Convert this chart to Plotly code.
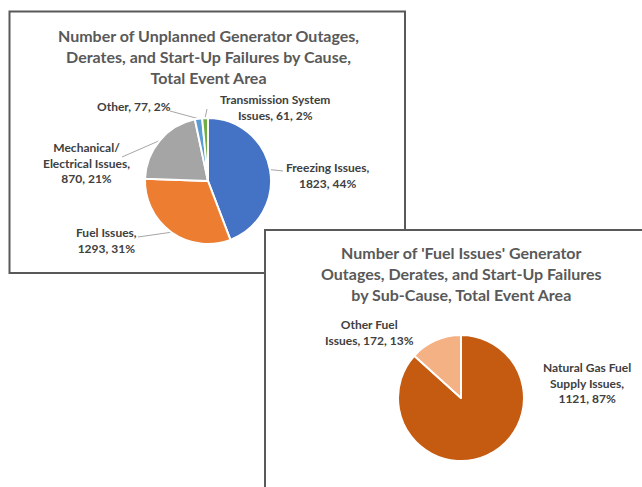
import math
import plotly.graph_objects as go

# ---------------- data ----------------
causes = ["Freezing Issues", "Fuel Issues", "Mechanical/<br>Electrical Issues", "Other", "Transmission System<br>Issues"]
cause_counts = [1823, 1293, 870, 77, 61]
cause_pcts = ["44%", "31%", "21%", "2%", "2%"]
cause_colors = ["#4472C4", "#ED7D31", "#A5A5A5", "#5B9BD5", "#70AD47"]

fuel_subcauses = ["Natural Gas Fuel<br>Supply Issues", "Other Fuel<br>Issues"]
fuel_counts = [1121, 172]
fuel_pcts = ["87%", "13%"]
fuel_colors = ["#C55A11", "#F4B183"]

title1 = "Number of Unplanned Generator Outages,<br>Derates, and Start-Up Failures by Cause,<br>Total Event Area"
title2 = "Number of 'Fuel Issues' Generator<br>Outages, Derates, and Start-Up Failures<br>by Sub-Cause, Total Event Area"

W, H = 642, 487
FONT = "Lato"
TITLE_C = "#595959"
LABEL_C = "#404040"


def px(x):
    return x / W


def py(y):
    return 1 - y / H


# pie geometry (pixel centre / radius)
P1 = (208, 181, 63)
P2 = (461, 398, 63)


def dom(p):
    cx, cy, r = p
    return dict(x=[px(cx - r), px(cx + r)], y=[py(cy + r), py(cy - r)])


fig = go.Figure()
fig.add_trace(go.Pie(
    labels=causes, values=cause_counts, sort=False, direction="clockwise", rotation=0,
    marker=dict(colors=cause_colors, line=dict(color="white", width=2)),
    textinfo="none", domain=dom(P1), showlegend=False))
fig.add_trace(go.Pie(
    labels=fuel_subcauses, values=fuel_counts, sort=False, direction="clockwise", rotation=0,
    marker=dict(colors=fuel_colors, line=dict(color="white", width=2)),
    textinfo="none", domain=dom(P2), showlegend=False))

shapes = []
# chart frames
shapes.append(dict(type="rect", xref="paper", yref="paper", x0=px(9.5), x1=px(405), y0=py(273), y1=py(11.5),
                   fillcolor="white", line=dict(color="#595959", width=2), layer="below"))
shapes.append(dict(type="rect", xref="paper", yref="paper", x0=px(265), x1=px(660), y0=py(500), y1=py(230),
                   fillcolor="white", line=dict(color="#595959", width=2), layer="below"))


def mid_points(values, p):
    cx, cy, r = p
    tot = sum(values)
    cum = 0
    pts = []
    for v in values:
        a = 2 * math.pi * (cum + v / 2) / tot
        pts.append((cx + r * math.sin(a), cy - r * math.cos(a)))
        cum += v
    return pts


# leader line label-side anchors for pie 1
label_anchor1 = [(283, 171), (138, 237), (122, 157), (170, 111), (207, 109)]
for (sx, sy), (lx, ly) in zip(mid_points(cause_counts, P1), label_anchor1):
    shapes.append(dict(type="line", xref="paper", yref="paper", x0=px(sx), y0=py(sy), x1=px(lx), y1=py(ly),
                       line=dict(color="#A6A6A6", width=1), layer="below"))

annotations = []


def add_text(txt, x, y, size, color):
    annotations.append(dict(text="<b>" + txt + "</b>", x=px(x), y=py(y), xref="paper", yref="paper",
                            xanchor="center", yanchor="middle", showarrow=False,
                            font=dict(family=FONT, size=size, color=color), align="center"))


add_text(title1, 208, 56, 16, TITLE_C)
add_text(title2, 461, 273.5, 16, TITLE_C)

label_pos1 = [(327, 175), (106, 241), (87, 163), (134, 107), (275, 108)]
for name, cnt, pct, (lx, ly) in zip(causes, cause_counts, cause_pcts, label_pos1):
    sep = "<br>" if name in ("Freezing Issues", "Fuel Issues", "Mechanical/<br>Electrical Issues") else " "
    add_text(f"{name},{sep}{cnt}, {pct}", lx, ly, 12, LABEL_C)

label_pos2 = [(587, 383), (369, 332)]
for name, cnt, pct, (lx, ly) in zip(fuel_subcauses, fuel_counts, fuel_pcts, label_pos2):
    sep = "<br>" if name.startswith("Natural") else " "
    add_text(f"{name},{sep}{cnt}, {pct}", lx, ly, 12, LABEL_C)

fig.update_layout(width=W, height=H, margin=dict(l=0, r=0, t=0, b=0),
                  paper_bgcolor="white", plot_bgcolor="white",
                  shapes=shapes, annotations=annotations, showlegend=False)

fig.write_html("out.html", config={"displayModeBar": False},
               post_script="document.body.style.margin='0px';")
